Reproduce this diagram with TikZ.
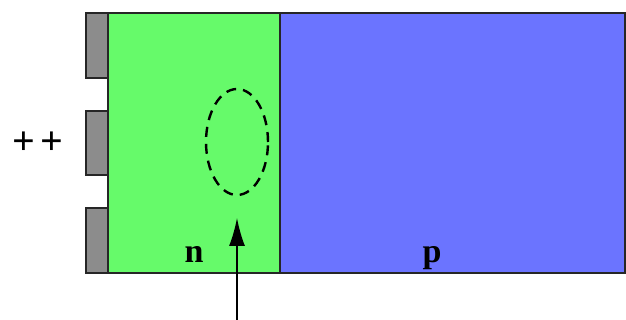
\documentclass[tikz,border=0pt]{standalone}
\usepackage{fontspec}
\setmainfont{Liberation Serif}
\usetikzlibrary{arrows.meta,shapes.geometric}
\definecolor{ngreen}{HTML}{66FA6A}
\definecolor{pblue}{HTML}{6B74FF}
\definecolor{contact}{HTML}{8C8C8C}
\tikzset{
  region/.style={draw=black!85, line width=1.2pt},
  contactbox/.style={draw=black!85, fill=contact, line width=1.2pt},
  lbl/.style={font=\fontsize{34}{34}\selectfont\bfseries, inner sep=0pt, anchor=base},
}
\begin{document}
\begin{tikzpicture}[x=1pt,y=-1pt]
\useasboundingbox (0,0) rectangle (626,320);
\fill[ngreen] (108,13) rectangle (280,273);
\fill[pblue] (280,13) rectangle (625,273);
\draw[region] (108,13) rectangle (625,273);
\draw[region] (280,13) -- (280,273);
\draw[contactbox] (86,13) rectangle (108,78);
\draw[contactbox] (86,111) rectangle (108,175);
\draw[contactbox] (86,208) rectangle (108,273);
\node[draw, line width=2.4pt, dash pattern=on 10pt off 7pt, ellipse, minimum width=62pt, minimum height=106pt, inner sep=0pt] (loop) at (237,142) {};
\coordinate (src) at (237,320);
\coordinate (tip) at (237,218);
\draw[line width=1.5pt, -{Latex[length=28pt,width=16pt]}] (src) -- (tip);
\node[lbl] (n) at (194,262) {n};
\node[lbl] (p) at (432,262) {p};
\node[font=\fontsize{40}{40}\selectfont\bfseries, inner sep=0pt] (pp) at (38,143) {+\hspace{5pt}+};
\end{tikzpicture}
\end{document}
